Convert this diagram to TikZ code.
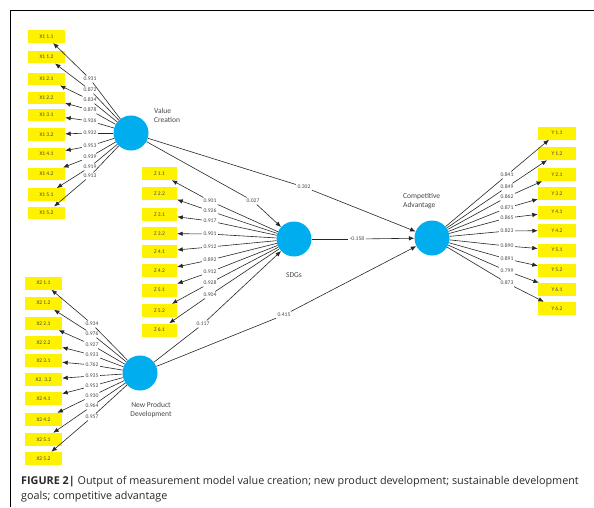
\documentclass[tikz,border=0pt]{standalone}
\usepackage{fontspec}
\setmainfont{Carlito}
\newfontfamily\capfont{Open Sans}
\usetikzlibrary{arrows.meta}
\definecolor{plsblue}{RGB}{0,174,239}
\definecolor{labgray}{RGB}{70,70,70}
\definecolor{capgray}{RGB}{40,40,40}
\begin{document}
\begin{tikzpicture}[x=1pt,y=-1pt,
  ind/.style={fill=yellow, minimum width=37pt, minimum height=12.5pt, inner sep=0pt, font=\fontsize{5.5}{6}\selectfont, text=labgray},
  lat/.style={circle, fill=plsblue, minimum size=35pt, inner sep=0pt},
  ld/.style={font=\fontsize{5.6}{6.5}\selectfont, text=labgray, inner sep=1.5pt},
  conn/.style={draw=black!85, line width=0.6pt},
  arr/.style={conn, -{Latex[length=5.5pt,width=4.5pt]}},
  ltext/.style={font=\fontsize{7.5}{9}\selectfont, text=labgray, inner sep=0pt},
  captext/.style={font=\capfont\fontsize{10.8}{12}\selectfont, text=capgray, anchor=west, inner sep=0pt}
]
\useasboundingbox (0,0) rectangle (594,507);
\draw[line width=1pt] (10.5,507) -- (10.5,10.5) -- (594,10.5);

% latent variables
\node[lat] (vc) at (131,133) {};
\node[lat] (sdg) at (294,239) {};
\node[lat] (ca) at (432,238) {};
\node[lat] (npd) at (140,373) {};
\node[ltext, anchor=west, align=left] (vct) at (154,115) {Value\\Creation};
\node[ltext] (sdgt) at (294,275) {SDGs};
\node[ltext, anchor=west, align=left] (cat) at (403,201) {Competitive\\Advantage};
\node[ltext, align=center] (npdt) at (151,410) {New Product\\Development};

% X1 block
\foreach \y/\t [count=\i] in {36.5/X1 1.1, 57/X1 1.2, 79/X1 2.1, 98/X1 2.2, 115/X1 3.1, 134.5/X1 3.2, 154/X1 4.1, 174/X1 4.2, 194.5/X1 5.1, 213/X1 5.2}
  {\node[ind] (xa\i) at (46.5,\y) {\t};}
\foreach \y/\v [count=\i] in {79/0.931, 90/0.872, 100/0.834, 110/0.878, 121/0.926, 133/0.932, 146/0.953, 157/0.939, 167/0.919, 176/0.913}
  {\node[ld] (la\i) at (90,\y) {\v};
   \draw[conn] (vc) -- (la\i);
   \draw[arr] (la\i) -- (xa\i);}

% Z block
\foreach \y/\t [count=\i] in {173.5/Z 1.1, 193.5/Z 2.2, 214.5/Z 3.1, 233.5/Z 3.2, 251.5/Z 4.1, 270.5/Z 4.2, 290/Z 5.1, 310.5/Z 5.2, 330/Z 6.1}
  {\node[ind, minimum width=35pt, minimum height=13pt] (za\i) at (159.5,\y) {\t};}
\foreach \y/\v [count=\i] in {201/0.901, 211/0.926, 221/0.917, 234/0.901, 247/0.912, 260/0.892, 272/0.912, 283/0.928, 295/0.904}
  {\node[ld] (lz\i) at (210,\y) {\v};
   \draw[conn] (sdg) -- (lz\i);
   \draw[arr] (lz\i) -- (za\i);}

% Y block
\foreach \y/\t [count=\i] in {133/Y 1.1, 153.5/Y 1.2, 174.5/Y 2.1, 193.5/Y 3.2, 212/Y 4.1, 230.5/Y 4.2, 250/Y 5.1, 270/Y 5.2, 289.5/Y 6.1, 308.5/Y 6.2}
  {\node[ind, minimum width=38pt, minimum height=13pt] (ya\i) at (557,\y) {\t};}
\foreach \y/\v [count=\i] in {175/0.841, 187/0.849, 197/0.862, 208/0.871, 218/0.865, 231/0.823, 246/0.890, 259/0.891, 271/0.799, 283/0.873}
  {\node[ld] (ly\i) at (507,\y) {\v};
   \draw[conn] (ca) -- (ly\i);
   \draw[arr] (ly\i) -- (ya\i);}

% X2 block
\foreach \y/\t [count=\i] in {283/X2 1.1, 303/X2 1.2, 323.5/X2 2.1, 342.5/X2 2.2, 360.5/X2 3.1, 379.5/X2. 3.2, 398.5/X2 4.1, 419.5/X2 4.2, 439.5/X2 5.1, 458.5/X2 5.2}
  {\node[ind, minimum height=13pt] (xb\i) at (43.5,\y) {\t};}
\foreach \y/\v [count=\i] in {324/0.934, 334/0.976, 345/0.927, 355/0.933, 365/0.762, 376/0.935, 386/0.952, 396/0.930, 406/0.964, 417/0.957}
  {\node[ld] (lb\i) at (92,\y) {\v};
   \draw[conn] (npd) -- (lb\i);
   \draw[arr] (lb\i) -- (xb\i);}

% structural paths
\node[ld] (p1) at (253,201) {0.027};
\node[ld] (p2) at (304,187) {0.302};
\node[ld] (p3) at (357,239) {-0.158};
\node[ld] (p4) at (203,324) {0.117};
\node[ld] (p5) at (284,315) {0.415};
\draw[conn] (vc) -- (p1); \draw[arr] (p1) -- (sdg);
\draw[conn] (vc) -- (p2); \draw[arr] (p2) -- (ca);
\draw[conn] (sdg) -- (p3); \draw[arr] (p3) -- (ca);
\draw[conn] (npd) -- (p4); \draw[arr] (p4) -- (sdg);
\draw[conn] (npd) -- (p5); \draw[arr] (p5) -- (ca);

% caption
\node[captext] (cap1) at (21,482) {\textbf{FIGURE 2|} Output of measurement model value creation; new product development; sustainable development};
\node[captext] (cap2) at (21,497) {goals; competitive advantage};
\end{tikzpicture}
\end{document}
